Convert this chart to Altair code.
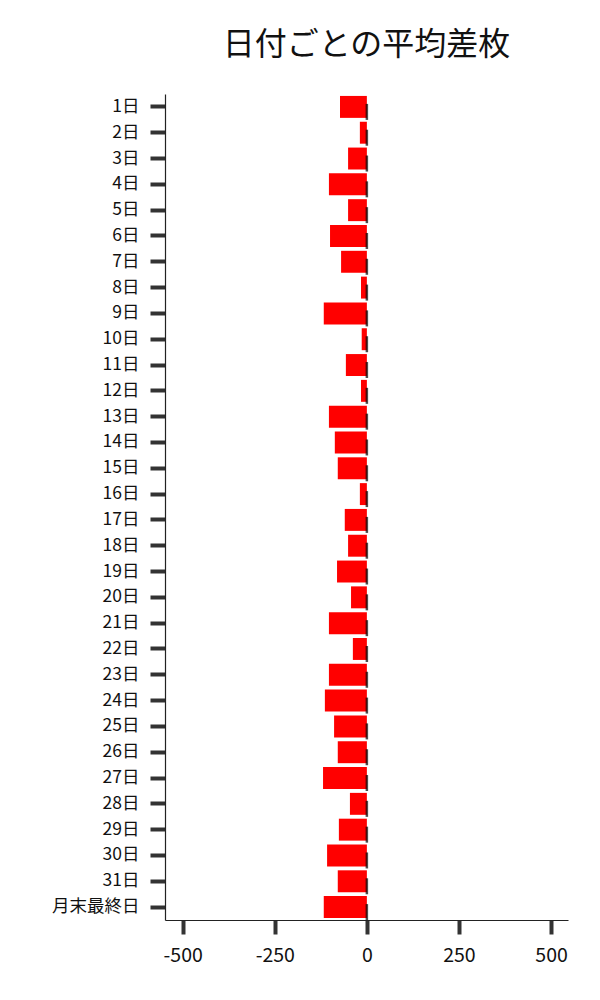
import altair as alt
import pandas as pd

days = [f"{i}日" for i in range(1, 32)] + ["月末最終日"]
values = [-73, -19, -51, -103, -51, -100, -70, -16, -117, -14, -57,
          -16, -103, -87, -79, -19, -60, -51, -81, -43, -103,
          -38, -103, -114, -89, -79, -119, -46, -76, -108, -79, -117]
x_ticks = [-500, -250, 0, 250, 500]

df = pd.DataFrame({"day": days, "value": values})

FONT = "Noto Sans CJK JP"

y_enc = alt.Y("day:N", sort=days, title=None,
              scale=alt.Scale(paddingInner=0.15, paddingOuter=0.075),
              axis=alt.Axis(tickSize=15, tickWidth=4, tickColor="#333333",
                            domainColor="#222222", domainWidth=1.2,
                            labelFont=FONT, labelFontSize=17.5, labelColor="#111111",
                            labelFontWeight="normal",
                            labelPadding=11, grid=False))
x_enc = alt.X("value:Q", title=None,
              scale=alt.Scale(domain=[-548, 546], nice=False, zero=False),
              axis=alt.Axis(values=x_ticks, tickSize=14, tickWidth=4,
                            tickColor="#333333", domainColor="#222222", domainWidth=1.2,
                            labelFont=FONT, labelFontSize=19.5, labelColor="#111111",
                            labelFontWeight="normal",
                            labelPadding=12, grid=False,
                            labelExpr="toString(datum.value)"))

bars = alt.Chart(df).mark_bar(color="#ff0000").encode(x=x_enc, y=y_enc)

ticks = alt.Chart(df).mark_tick(color="black", thickness=2.5, size=16, orient="vertical", yOffset=5).encode(
    x=alt.X("zero:Q"), y=alt.Y("day:N", sort=days)
).transform_calculate(zero="0")

chart = (bars + ticks).properties(
    width=403, height=826,
    title=alt.TitleParams("日付ごとの平均差枚", font=FONT, fontSize=32, fontWeight="normal",
                          color="#111111", offset=32, anchor="middle"),
    autosize=alt.AutoSizeParams(type="none"),
    padding={"left": 157, "top": 86, "right": 24, "bottom": 70},
).configure_view(stroke=None)

chart.save("out.html", embed_options={"renderer": "svg", "actions": False})
